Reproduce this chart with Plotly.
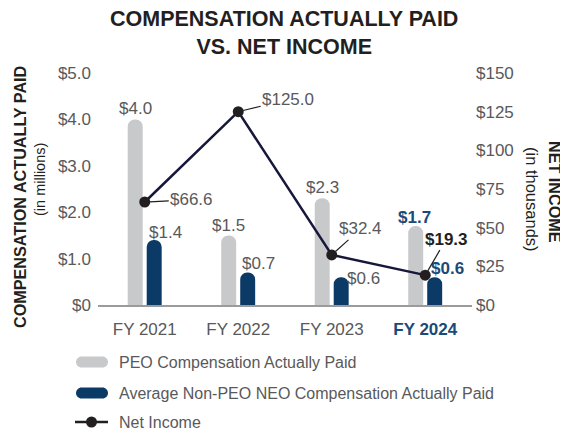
import plotly.graph_objects as go

# ---------------- data ----------------
years = ["FY 2021", "FY 2022", "FY 2023", "FY 2024"]
peo_cap = [4.0, 1.5, 2.3, 1.7]          # $ millions
neo_cap = [1.4, 0.7, 0.6, 0.6]          # $ millions
net_income = [66.6, 125.0, 32.4, 19.3]  # $ thousands

left_ticks = [0, 1, 2, 3, 4, 5]
left_tick_labels = ["$0", "$1.0", "$2.0", "$3.0", "$4.0", "$5.0"]
right_ticks = [0, 25, 50, 75, 100, 125, 150]
right_tick_labels = ["$0", "$25", "$50", "$75", "$100", "$125", "$150"]

legend_names = ["PEO Compensation Actually Paid",
                "Average Non-PEO NEO Compensation Actually Paid",
                "Net Income"]

# ---------------- style ----------------
FONT = "Liberation Sans, Arial, Helvetica, sans-serif"
GREY_BAR = "#c8c9cb"
NAVY = "#0c3a66"
NAVY_TXT = "#1b4a78"
TXT = "#58595b"
DARK = "#231f20"
LINE = "#15183a"

PAGE_OFF = 8          # page body margin
W, H = 560, 426
ML, MT = 90, 65
PW, PH = 374, 232
MR, MB = W - ML - PW, H - MT - PH


def px(xs):   # screen x -> paper x
    return (xs - PAGE_OFF - ML) / PW


def py(ys):   # screen y -> paper y
    return (MT + PH - (ys - PAGE_OFF)) / PH


BAR_W = 0.16
GREY_OFF = -0.182
NAVY_OFF = 0.021

tick_text = years[:-1] + [f"<b><span style='color:{NAVY_TXT}'>{years[-1]}</span></b>"]

fig = go.Figure()

fig.add_trace(go.Bar(
    x=years, y=peo_cap, width=BAR_W, offset=GREY_OFF, name=legend_names[0],
    marker=dict(color=GREY_BAR, cornerradius=7, line=dict(width=0)),
    showlegend=False, hoverinfo="skip"))
fig.add_trace(go.Bar(
    x=years, y=neo_cap, width=BAR_W, offset=NAVY_OFF, name=legend_names[1],
    marker=dict(color=NAVY, cornerradius=7, line=dict(width=0)),
    showlegend=False, hoverinfo="skip"))
fig.add_trace(go.Scatter(
    x=years, y=net_income, yaxis="y2", mode="lines+markers", name=legend_names[2],
    line=dict(color=LINE, width=2.5),
    marker=dict(color=DARK, size=11),
    showlegend=False, hoverinfo="skip"))

ann = []
# PEO labels (centred over grey bar)
peo_shift = [(-9.5, 11), (-9.5, 10), (-9.5, 11), (-11, 9)]
for i, (yr, v) in enumerate(zip(years, peo_cap)):
    bold = i == len(years) - 1
    ann.append(dict(x=yr, y=v, xref="x", yref="y", xshift=peo_shift[i][0], yshift=peo_shift[i][1],
                    text=f"<b>${v:.1f}</b>" if bold else f"${v:.1f}", showarrow=False,
                    xanchor="center", yanchor="middle",
                    font=dict(size=17, color=NAVY_TXT if bold else TXT)))
# NEO labels (left aligned at navy bar)
neo_shift = [(2, 8), (2, 9.5), (13, -1), (4, 9)]
for i, (yr, v) in enumerate(zip(years, neo_cap)):
    bold = i == len(years) - 1
    ann.append(dict(x=yr, y=v, xref="x", yref="y", xshift=neo_shift[i][0], yshift=neo_shift[i][1],
                    text=f"<b>${v:.1f}</b>" if bold else f"${v:.1f}", showarrow=False,
                    xanchor="left", yanchor="middle",
                    font=dict(size=17, color=NAVY_TXT if bold else TXT)))
# Net income labels with leader lines
ni_off = [(47, -2), (50, -12), (29, -26), (21, -36)]
for i, (yr, v) in enumerate(zip(years, net_income)):
    bold = i == len(years) - 1
    ann.append(dict(x=yr, y=v, xref="x", yref="y2", ax=ni_off[i][0], ay=ni_off[i][1],
                    text=f"<b>${v:.1f}</b>" if bold else f"${v:.1f}", showarrow=True,
                    arrowhead=0, arrowwidth=1.2, arrowcolor=DARK, standoff=5,
                    xanchor="center", yanchor="middle",
                    font=dict(size=17, color=DARK if bold else TXT)))

# title
ann.append(dict(x=px(284), y=py(5), xref="paper", yref="paper", xanchor="center", yanchor="top",
                text="<b>COMPENSATION ACTUALLY PAID<br>VS. NET INCOME</b>", showarrow=False,
                font=dict(size=21.5, color=DARK)))

# axis titles
ann.append(dict(x=px(20), y=py(197), xref="paper", yref="paper", text="<b>COMPENSATION ACTUALLY PAID</b>",
                textangle=-90, showarrow=False, xanchor="center", yanchor="middle",
                font=dict(size=16.2, color=DARK)))
ann.append(dict(x=px(40), y=py(180), xref="paper", yref="paper", text="(in millions)",
                textangle=-90, showarrow=False, xanchor="center", yanchor="middle",
                font=dict(size=14.5, color=DARK)))
ann.append(dict(x=px(555), y=py(192), xref="paper", yref="paper", text="<b>NET INCOME</b>",
                textangle=90, showarrow=False, xanchor="center", yanchor="middle",
                font=dict(size=16.2, color=DARK)))
ann.append(dict(x=px(532), y=py(199), xref="paper", yref="paper", text="(in thousands)",
                textangle=90, showarrow=False, xanchor="center", yanchor="middle",
                font=dict(size=16.5, color=DARK)))

# manual legend
leg_rows = [362, 393, 422]
for name, yrow in zip(legend_names, leg_rows):
    ann.append(dict(x=px(117), y=py(yrow), xref="paper", yref="paper", xanchor="left",
                    yanchor="middle", text=name, showarrow=False,
                    font=dict(size=16, color=TXT)))

pill = ("M -10.5,-5.5 L 10.5,-5.5 C 13.5,-5.5 16,-3 16,0 C 16,3 13.5,5.5 10.5,5.5 "
        "L -10.5,5.5 C -13.5,5.5 -16,3 -16,0 C -16,-3 -13.5,-5.5 -10.5,-5.5 Z")
shapes = []
for col, yrow in zip([GREY_BAR, NAVY], leg_rows[:2]):
    shapes.append(dict(type="path", xref="paper", yref="paper", xsizemode="pixel", ysizemode="pixel",
                       xanchor=px(92), yanchor=py(yrow), path=pill,
                       fillcolor=col, line=dict(width=0)))
shapes.append(dict(type="line", xref="paper", yref="paper", x0=px(75), x1=px(108),
                   y0=py(leg_rows[2]), y1=py(leg_rows[2]), line=dict(color=DARK, width=2.5)))
shapes.append(dict(type="circle", xref="paper", yref="paper", xsizemode="pixel", ysizemode="pixel",
                   xanchor=px(91.5), yanchor=py(leg_rows[2]), x0=-5.5, x1=5.5, y0=-5.5, y1=5.5,
                   fillcolor=DARK, line=dict(width=0)))

fig.update_layout(
    width=W, height=H,
    margin=dict(l=ML, r=MR, t=MT, b=MB, pad=0, autoexpand=False),
    paper_bgcolor="white", plot_bgcolor="white",
    font=dict(family=FONT, size=17, color=TXT),
    barmode="overlay",
    xaxis=dict(type="category", categoryorder="array", categoryarray=years,
               tickvals=years, ticktext=tick_text, showline=True, linecolor="#9b9b9b",
               linewidth=1.5, showgrid=False, zeroline=False, ticks="", ticklabelstandoff=8,
               tickfont=dict(size=17, color=TXT), fixedrange=True, automargin=False),
    yaxis=dict(range=[0, 5], tickvals=left_ticks, ticktext=left_tick_labels, showgrid=False,
               zeroline=False, showline=False, ticks="", ticklabelstandoff=6,
               tickfont=dict(size=17, color=TXT), automargin=False),
    yaxis2=dict(range=[0, 150], overlaying="y", side="right", tickvals=right_ticks,
                ticktext=right_tick_labels, showgrid=False, zeroline=False, showline=False,
                ticks="", ticklabelstandoff=3, tickfont=dict(size=17, color=TXT), automargin=False),
    annotations=ann,
    shapes=shapes,
    showlegend=False,
)

fig.write_html("out.html")
